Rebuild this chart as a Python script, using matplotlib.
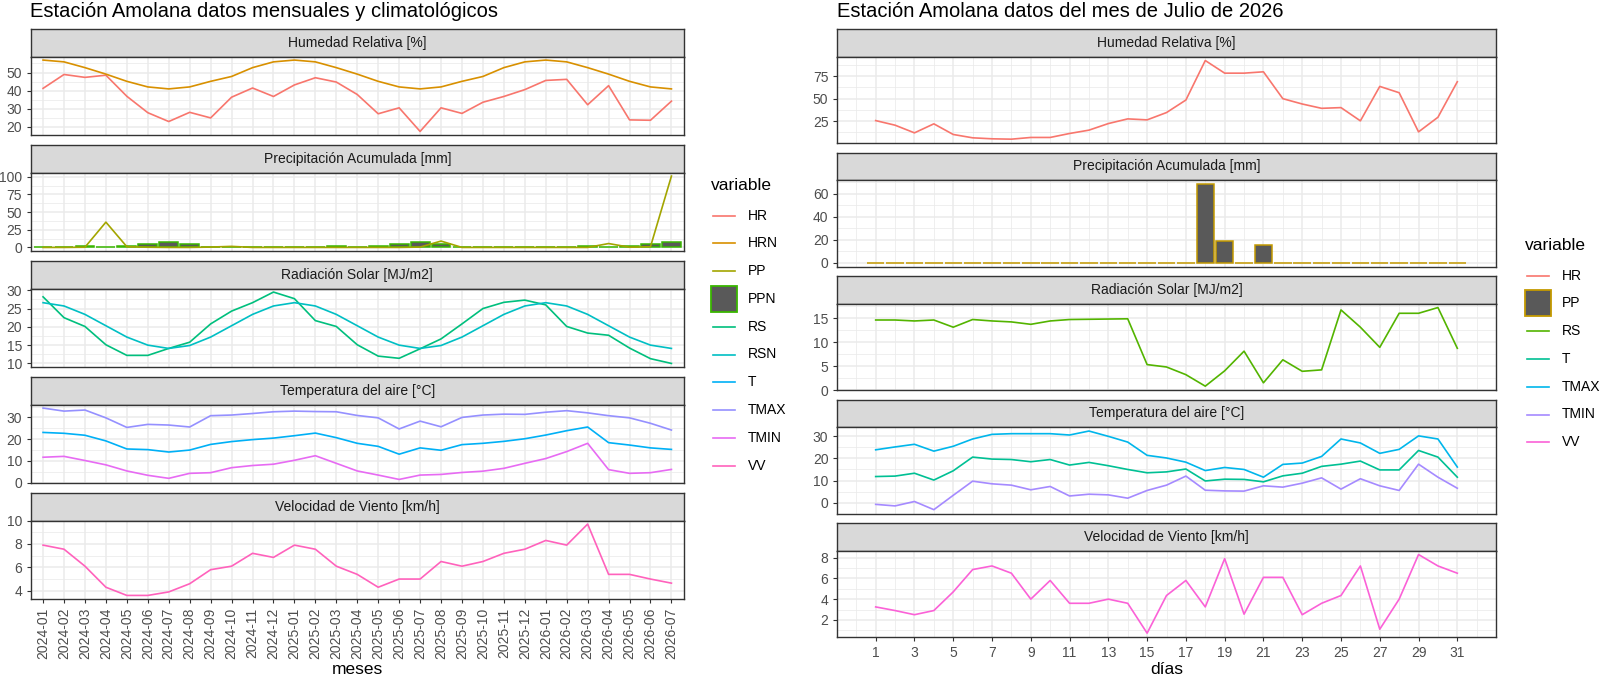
import numpy as np
import matplotlib.pyplot as plt
from matplotlib.patches import Rectangle

plt.rcParams['font.family'] = ['Liberation Sans', 'DejaVu Sans']

W, H = 1600, 676

# ---------------- datos mensuales y climatologicos (izquierda)
meses = ['2024-01', '2024-02', '2024-03', '2024-04', '2024-05', '2024-06',
         '2024-07', '2024-08', '2024-09', '2024-10', '2024-11', '2024-12',
         '2025-01', '2025-02', '2025-03', '2025-04', '2025-05', '2025-06',
         '2025-07', '2025-08', '2025-09', '2025-10', '2025-11', '2025-12',
         '2026-01', '2026-02', '2026-03', '2026-04', '2026-05', '2026-06',
         '2026-07']

hr_mes = [41.2, 48.9, 47.3, 48.5, 36.8, 27.7, 22.8, 27.9, 24.8, 36.3, 41.4, 36.7,
          43.1, 47.1, 44.7, 37.8, 27.1, 30.4, 17.3, 30.4, 27.3, 33.5, 36.7, 40.5,
          45.6, 46.2, 32.1, 42.7, 23.7, 23.5, 34.1]
hrn_mes = [56.9, 55.9, 52.7, 49.1, 45.1, 42.0, 40.9, 42.0, 45.1, 47.8, 52.7, 55.9,
           56.9, 55.9, 52.7, 49.1, 45.1, 42.0, 40.9, 42.0, 45.1, 47.8, 52.7, 55.9,
           56.9, 55.9, 52.7, 49.1, 45.1, 42.0, 40.9]
pp_mes = [0.0, 0.0, 0.3, 35.8, 1.0, 0.3, 0.0, 0.0, 0.5, 1.5, 0.0, 0.0,
          0.0, 0.0, 0.0, 0.0, 0.0, 0.0, 0.5, 9.0, 0.0, 0.0, 0.0, 0.0,
          0.0, 0.0, 0.0, 5.5, 0.3, 1.0, 101.0]
ppn_mes = [0.2, 0.1, 1.8, 1.2, 2.2, 5.0, 7.0, 4.2, 0.3, 0.6, 0.1, 0.1,
           0.2, 0.1, 1.8, 1.2, 2.2, 5.0, 7.0, 4.2, 0.3, 0.6, 0.1, 0.1,
           0.2, 0.1, 1.8, 1.2, 2.2, 5.0, 7.0]
rs_mes = [28.2, 22.5, 20.1, 15.1, 12.2, 12.2, 14.1, 15.8, 20.8, 24.3, 26.6, 29.5,
          27.7, 21.7, 20.1, 15.1, 12.0, 11.4, 14.0, 16.7, 20.8, 25.0, 26.7, 27.3,
          26.0, 20.1, 18.3, 17.7, 14.2, 11.3, 10.0]
rsn_mes = [26.6, 25.7, 23.4, 20.3, 17.2, 15.0, 14.1, 14.9, 17.2, 20.3, 23.4, 25.7,
           26.6, 25.7, 23.4, 20.3, 17.2, 15.0, 14.1, 14.9, 17.2, 20.3, 23.4, 25.7,
           26.6, 25.7, 23.4, 20.3, 17.2, 15.0, 14.1]
t_mes = [23.1, 22.7, 21.8, 19.2, 15.5, 15.2, 14.1, 15.0, 17.6, 18.9, 19.8, 20.5,
         21.6, 22.8, 20.7, 18.1, 16.7, 13.1, 16.0, 14.9, 17.5, 18.1, 19.0, 20.2,
         21.9, 23.9, 25.6, 18.4, 17.3, 16.0, 15.3]
tmax_mes = [34.3, 32.9, 33.4, 29.8, 25.4, 26.8, 26.5, 25.6, 30.8, 31.1, 31.8, 32.6,
            32.9, 32.7, 32.6, 30.9, 29.8, 24.7, 28.3, 25.7, 30.0, 31.1, 31.5, 31.4,
            32.4, 33.1, 32.1, 30.8, 29.8, 27.3, 24.2]
tmin_mes = [11.7, 12.1, 10.2, 8.2, 5.4, 3.4, 2.0, 4.3, 4.6, 6.9, 7.9, 8.5,
            10.3, 12.4, 8.9, 5.4, 3.5, 1.5, 3.5, 3.8, 4.7, 5.3, 6.6, 8.9,
            11.1, 14.3, 18.1, 6.0, 4.3, 4.6, 6.1]
vv_mes = [7.9, 7.55, 6.1, 4.3, 3.6, 3.6, 3.9, 4.6, 5.8, 6.1, 7.2, 6.85,
          7.9, 7.55, 6.1, 5.4, 4.3, 5.0, 5.0, 6.5, 6.1, 6.5, 7.2, 7.55,
          8.3, 7.9, 9.7, 5.4, 5.4, 5.0, 4.65]

# ---------------- datos diarios julio 2026 (derecha)
dias = list(range(1, 32))
hr_dia = [25.7, 20.6, 12.1, 22.1, 10.3, 6.6, 5.5, 5.1, 7.0, 7.0, 11.4, 15.1,
          22.4, 27.6, 26.5, 34.6, 48.5, 92.3, 78.3, 78.3, 79.8, 50.0, 44.1, 39.3,
          40.1, 25.4, 63.6, 56.6, 13.2, 29.4, 68.8]
pp_dia = [0, 0, 0, 0, 0, 0, 0, 0, 0, 0, 0, 0, 0, 0, 0, 0, 0, 68.6, 19.3, 0, 15.0,
          0, 0, 0, 0, 0, 0, 0, 0, 0, 0]
rs_dia = [14.6, 14.6, 14.4, 14.6, 13.1, 14.7, 14.4, 14.2, 13.7, 14.4, 14.7, 14.75,
          14.8, 14.85, 5.3, 4.8, 3.2, 0.8, 4.0, 8.1, 1.5, 6.3, 3.9, 4.2,
          16.7, 13.1, 8.9, 16.0, 16.0, 17.2, 8.7]
t_dia = [11.8, 12.0, 13.3, 10.2, 14.4, 20.6, 19.7, 19.5, 18.5, 19.5, 17.0, 18.2,
         16.7, 15.0, 13.5, 13.9, 15.2, 9.8, 10.6, 10.5, 9.4, 12.1, 13.3, 16.4,
         17.4, 18.8, 14.8, 14.8, 23.6, 20.6, 11.5]
tmax_dia = [23.9, 25.2, 26.4, 23.3, 25.5, 28.8, 30.9, 31.2, 31.2, 31.2, 30.6, 32.4,
            30.0, 27.4, 21.4, 20.2, 18.3, 14.5, 15.9, 15.0, 11.5, 17.3, 17.9, 20.9,
            28.8, 27.0, 22.3, 24.1, 30.2, 28.8, 16.1]
tmin_dia = [-0.8, -1.5, 0.5, -3.2, 3.3, 9.7, 8.5, 7.9, 5.8, 7.3, 3.0, 3.8,
            3.5, 2.0, 5.5, 7.9, 12.0, 5.6, 5.3, 5.2, 7.6, 7.0, 8.8, 11.2,
            6.1, 10.8, 7.6, 5.5, 17.4, 11.5, 6.5]
vv_dia = [3.25, 2.9, 2.5, 2.9, 4.7, 6.85, 7.2, 6.5, 4.0, 5.8, 3.6, 3.6,
          4.0, 3.6, 0.72, 4.35, 5.8, 3.25, 7.9, 2.55, 6.1, 6.1, 2.5, 3.6,
          4.35, 7.2, 1.1, 4.0, 8.3, 7.2, 6.5]

col_izq = {'HR': '#F8766D', 'HRN': '#D89000', 'PP': '#A3A500', 'PPN': '#39B600',
           'RS': '#00BF7D', 'RSN': '#00BFC4', 'T': '#00B0F6', 'TMAX': '#9590FF',
           'TMIN': '#E76BF3', 'VV': '#FF62BC'}
col_der = {'HR': '#F8766D', 'PP': '#C49A00', 'RS': '#53B400', 'T': '#00C094',
           'TMAX': '#00B6EB', 'TMIN': '#A58AFF', 'VV': '#FB61D7'}

titulos = ['Humedad Relativa [%]', 'Precipitación Acumulada [mm]',
           'Radiación Solar [MJ/m2]', 'Temperatura del aire [°C]',
           'Velocidad de Viento [km/h]']

LW = 1.2
GRIS_BORDE = '#333333'

fig = plt.figure(figsize=(W / 100, H / 100), dpi=100)

ov = fig.add_axes([0, 0, 1, 1])
ov.set_xlim(0, W)
ov.set_ylim(H, 0)
ov.axis('off')


def caja(x0, y0, x1, y1):
    return fig.add_axes([x0 / W, 1 - y1 / H, (x1 - x0) / W, (y1 - y0) / H])


def faceta(x0, x1, top, h_strip, h_panel, titulo):
    st = caja(x0, top, x1, top + h_strip)
    st.set_facecolor('#D9D9D9')
    st.set_xticks([])
    st.set_yticks([])
    for s in st.spines.values():
        s.set_color(GRIS_BORDE)
        s.set_linewidth(1.0)
    st.text(0.5, 0.5, titulo, ha='center', va='center', fontsize=10,
            color='#1A1A1A', transform=st.transAxes)
    ax = caja(x0, top + h_strip, x1, top + h_strip + h_panel)
    for s in ax.spines.values():
        s.set_color(GRIS_BORDE)
        s.set_linewidth(1.0)
    ax.set_axisbelow(True)
    ax.grid(which='major', color='#EBEBEB', lw=1.1)
    ax.grid(which='minor', color='#EBEBEB', lw=0.55)
    ax.tick_params(which='major', labelsize=10, labelcolor='#4D4D4D',
                   color=GRIS_BORDE, length=3.0, width=0.8, pad=3.2)
    ax.tick_params(which='minor', length=0)
    return ax


def ejes_y(ax, ticks):
    lim = ax.get_ylim()
    paso = ticks[1] - ticks[0]
    menores = [t - paso / 2 for t in ticks] + [ticks[-1] + paso / 2]
    ax.set_yticks(ticks)
    ax.set_yticks(menores, minor=True)
    ax.set_ylim(lim)


def ejes_x(ax, mayores, menores, etiquetas, lim, abajo, rot):
    ax.set_xticks(mayores)
    ax.set_xticks(menores, minor=True)
    ax.set_xlim(lim)
    if abajo:
        ax.set_xticklabels(etiquetas, rotation=rot)
    else:
        ax.tick_params(axis='x', which='major', length=0, labelbottom=False)


# ---------------- panel izquierdo
xl0, xl1 = 30.5, 684
x_m = np.arange(len(meses))
lim_m = (-0.6, len(meses) - 1 + 0.6)
yticks_izq = [[20, 30, 40, 50], [0, 25, 50, 75, 100], [10, 15, 20, 25, 30],
              [0, 10, 20, 30], [4, 6, 8, 10]]
for k in range(5):
    ax = faceta(xl0, xl1, 29 + 116 * k, 27.5, 78.5, titulos[k])
    if k == 0:
        ax.plot(x_m, hr_mes, color=col_izq['HR'], lw=LW)
        ax.plot(x_m, hrn_mes, color=col_izq['HRN'], lw=LW)
    elif k == 1:
        ax.bar(x_m, ppn_mes, width=0.9, color='#595959', edgecolor=col_izq['PPN'], lw=1.1)
        ax.plot(x_m, pp_mes, color=col_izq['PP'], lw=LW)
        ax.use_sticky_edges = False
        ax.autoscale_view()
    elif k == 2:
        ax.plot(x_m, rs_mes, color=col_izq['RS'], lw=LW)
        ax.plot(x_m, rsn_mes, color=col_izq['RSN'], lw=LW)
    elif k == 3:
        ax.plot(x_m, t_mes, color=col_izq['T'], lw=LW)
        ax.plot(x_m, tmax_mes, color=col_izq['TMAX'], lw=LW)
        ax.plot(x_m, tmin_mes, color=col_izq['TMIN'], lw=LW)
    else:
        ax.plot(x_m, vv_mes, color=col_izq['VV'], lw=LW)
    ejes_y(ax, yticks_izq[k])
    ejes_x(ax, x_m, [], meses, lim_m, k == 4, 90)

# ---------------- panel derecho
xr0, xr1 = 837, 1496
lo, hi = dias[0] - 0.45, dias[-1] + 0.45
pad = 0.05 * (hi - lo)
lim_d = (lo - pad, hi + pad)
yticks_der = [[25, 50, 75], [0, 20, 40, 60], [0, 5, 10, 15], [0, 10, 20, 30], [2, 4, 6, 8]]
for k in range(5):
    ax = faceta(xr0, xr1, 29.3 + 123.5 * k, 27.3, 86.5, titulos[k])
    if k == 0:
        ax.plot(dias, hr_dia, color=col_der['HR'], lw=LW)
    elif k == 1:
        ax.bar(dias, pp_dia, width=0.9, color='#595959', edgecolor=col_der['PP'], lw=1.1)
        ax.use_sticky_edges = False
        ax.autoscale_view()
    elif k == 2:
        ax.plot(dias, rs_dia, color=col_der['RS'], lw=LW)
    elif k == 3:
        ax.plot(dias, t_dia, color=col_der['T'], lw=LW)
        ax.plot(dias, tmax_dia, color=col_der['TMAX'], lw=LW)
        ax.plot(dias, tmin_dia, color=col_der['TMIN'], lw=LW)
    else:
        ax.plot(dias, vv_dia, color=col_der['VV'], lw=LW)
    ejes_y(ax, yticks_der[k])
    ejes_x(ax, dias[::2], [0] + dias[1::2] + [32], [str(d) for d in dias[::2]],
           lim_d, k == 4, 0)

# ---------------- titulos y leyendas
ov.text(xl0, 17, 'Estación Amolana datos mensuales y climatológicos',
        fontsize=14.5, ha='left', va='baseline')
ov.text(xr0, 17, 'Estación Amolana datos del mes de Julio de 2026',
        fontsize=14.5, ha='left', va='baseline')
ov.text((xl0 + xl1) / 2, 674, 'meses', fontsize=12.5, ha='center', va='baseline')
ov.text((xr0 + xr1) / 2, 674, 'días', fontsize=12.5, ha='center', va='baseline')


def leyenda(xk, y0, colores, barra):
    ov.text(xk - 2, y0, 'variable', fontsize=12.5, ha='left', va='center')
    for k, n in enumerate(colores):
        y = y0 + 30.5 + 27.8 * k
        if n == barra:
            ov.add_patch(Rectangle((xk - 2, y - 13), 26, 26, facecolor='#595959',
                                   edgecolor=colores[n], lw=1.3))
        else:
            ov.plot([xk, xk + 22], [y, y], color=colores[n], lw=LW)
        ov.text(xk + 35, y, n, fontsize=10, ha='left', va='center')


leyenda(713, 185, col_izq, 'PPN')
leyenda(1527, 245, col_der, 'PP')

fig.savefig('out.png', dpi=100)
